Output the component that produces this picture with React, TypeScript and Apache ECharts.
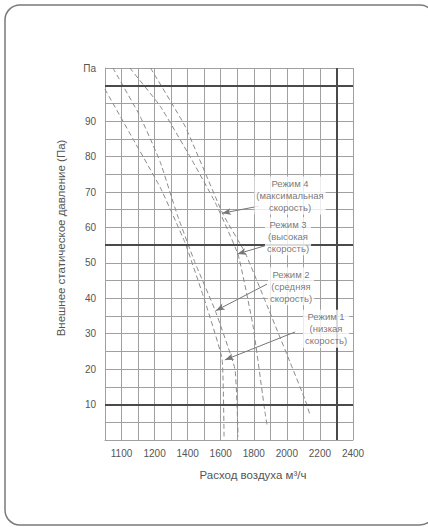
import React, { useEffect, useRef } from "react";
import * as echarts from "echarts";

// Fan curves: [airflow m³/h, external static pressure Pa]
const mode1: [number, number][] = [[900, 99], [1069, 85], [1233, 71.4], [1384, 55.7], [1505, 39.1], [1608, 22.9], [1620, 1]];
const mode2: [number, number][] = [[948, 105], [1112, 91.4], [1233, 78.6], [1336, 63.7], [1445, 50], [1566, 36.6], [1686, 20], [1705, 1]];
const mode3: [number, number][] = [[1050, 105], [1233, 94.3], [1414, 80], [1566, 67.1], [1705, 52.3], [1795, 32.3], [1868, 7.7], [1880, 4.3]];
const mode4: [number, number][] = [[1175, 105], [1384, 88.6], [1614, 63.7], [1747, 52.9], [1880, 38], [2019, 22], [2110, 11.4], [2140, 7.1]];

// Tick labels
const xTickValues = [1000, 1200, 1400, 1600, 1800, 2000, 2200, 2400];
const xTickLabels = ["1100", "1200", "1400", "1600", "1800", "2000", "2200", "2400"];
const yTickValues = [10, 20, 30, 40, 50, 60, 70, 80, 90];
const yUnitLabel = "Па";

// Thick reference lines
const thickY = [100, 55, 10];
const thickX = [2300];

// Annotations
const annTexts = [
  "Режим 4\n(максимальная\nскорость)",
  "Режим 3\n(высокая\nскорость)",
  "Режим 2\n(средняя\nскорость)",
  "Режим 1\n(низкая\nскорость)",
];
const annTextPos: [number, number][] = [[2019, 69], [2007, 57.5], [2025, 43.4], [2237, 31.4]];
const annLineFrom: [number, number][] = [[1830, 66], [1880, 55], [1880, 44], [2050, 30.5]];
const annArrowTip: [number, number][] = [[1608, 64], [1700, 52.5], [1570, 36.5], [1625, 22.6]];

const xName = "Расход воздуха м³/ч";
const yName = "Внешнее статическое давление (Па)";

const GRID = "#a0a0a0";
const DARK = "#4a4a4a";
const TXT = "#555";
const FONT = "'Liberation Sans', Arial, sans-serif";

export default function App() {
  const ref = useRef<HTMLDivElement>(null);
  useEffect(() => {
    if (!ref.current) return;
    const chart = echarts.init(ref.current, null, { renderer: "svg" });
    const curveStyle = { color: "#8a8a8a", width: 1, type: [5, 3] as any };
    const curve = (name: string, data: [number, number][]) => ({
      name,
      type: "line",
      data,
      smooth: 0.12,
      symbol: "none",
      lineStyle: curveStyle,
      z: 3,
      silent: true,
    });
    chart.setOption({
      animation: false,
      backgroundColor: "#fff",
      textStyle: { fontFamily: FONT },
      grid: { left: 105, top: 68, right: 75, bottom: 87 },
      graphic: [
        {
          type: "rect",
          shape: { x: 5, y: 5, width: 430, height: 520, r: 15 },
          style: { fill: "none", stroke: "#7a7a7a", lineWidth: 1.5 },
          silent: true,
        },
      ],
      xAxis: {
        type: "value",
        min: 900,
        max: 2400,
        interval: 100,
        name: xName,
        nameLocation: "middle",
        nameGap: 29,
        nameTextStyle: { color: TXT, fontSize: 11.5, fontFamily: FONT, padding: [0, 0, 0, 48] },
        axisLine: { show: true, lineStyle: { color: GRID, width: 1 } },
        axisTick: { show: false },
        axisLabel: {
          color: TXT,
          fontSize: 10,
          margin: 8,
          fontFamily: FONT,
          showMaxLabel: true,
          showMinLabel: true,
          formatter: (v: number) => {
            const i = xTickValues.indexOf(Math.round(v));
            return i >= 0 ? xTickLabels[i] : "";
          },
        },
        splitLine: { show: true, lineStyle: { color: GRID, width: 1 } },
      },
      yAxis: {
        type: "value",
        min: 0,
        max: 105,
        interval: 5,
        name: yName,
        nameLocation: "middle",
        nameGap: 38,
        nameTextStyle: { color: TXT, fontSize: 11.5, fontFamily: FONT, padding: [0, 0, 0, 32] },
        axisLine: { show: true, lineStyle: { color: GRID, width: 1 } },
        axisTick: { show: false },
        axisLabel: {
          color: TXT,
          fontSize: 10,
          margin: 9,
          fontFamily: FONT,
          showMaxLabel: true,
          formatter: (v: number) => {
            const r = Math.round(v);
            if (r === 105) return yUnitLabel;
            return yTickValues.indexOf(r) >= 0 ? String(r) : "";
          },
        },
        splitLine: { show: true, lineStyle: { color: GRID, width: 1 } },
      },
      series: [
        {
          type: "line",
          data: [],
          silent: true,
          markLine: {
            silent: true,
            symbol: "none",
            label: { show: false },
            lineStyle: { color: DARK, width: 2, type: "solid" },
            data: [
              ...thickY.map((y) => ({ yAxis: y })),
              ...thickX.map((x) => ({ xAxis: x })),
            ],
          },
          z: 2,
        },
        curve("Режим 1", mode1),
        curve("Режим 2", mode2),
        curve("Режим 3", mode3),
        curve("Режим 4", mode4),
        {
          type: "line",
          data: [],
          silent: true,
          markLine: {
            silent: true,
            label: { show: false },
            lineStyle: { color: "#777", width: 1, type: "solid" },
            data: annLineFrom.map((p, i) => [
              { coord: p, symbol: "none" },
              { coord: annArrowTip[i], symbol: "arrow", symbolSize: [5, 9] },
            ]),
            itemStyle: { color: "#222" },
          },
          z: 4,
        },
        {
          type: "scatter",
          silent: true,
          symbolSize: 0,
          data: annTextPos.map((p, i) => ({ value: p, name: annTexts[i] })),
          label: {
            show: true,
            position: "inside",
            formatter: (p: any) => p.name,
            color: TXT,
            fontSize: 9.5,
            lineHeight: 12,
            align: "center",
            verticalAlign: "middle",
            backgroundColor: "#fff",
            padding: [1, 2],
            fontFamily: FONT,
          },
          z: 5,
        },
      ],
    });
    return () => chart.dispose();
  }, []);
  return (
    <div
      ref={ref}
      style={{ position: "fixed", left: 0, top: 0, width: 428, height: 527, background: "#fff" }}
    />
  );
}
